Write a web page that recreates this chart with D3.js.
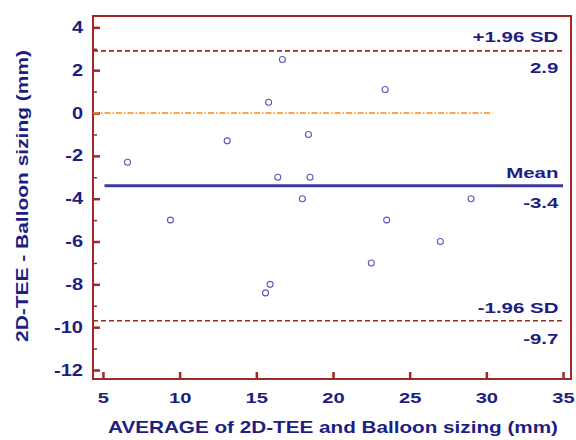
<!DOCTYPE html>
<html>
<head>
<meta charset="utf-8">
<script src="https://cdn.jsdelivr.net/npm/d3@7"></script>
<style>
  body { margin: 0; background: #fff; }
  text { font-family: "Liberation Sans", Arial, sans-serif; font-weight: bold; }
</style>
</head>
<body>
<div id="chart"></div>
<script>
// Bland-Altman points: average (mm) and difference (mm)
const averages = [6.6, 9.4, 13.1, 15.8, 16.7, 16.4, 15.9, 15.6, 18.4, 18.5, 18.0, 23.4, 29.0, 23.5, 27.0, 22.5];
const differences = [-2.3, -5.0, -1.3, 0.5, 2.5, -3.0, -8.0, -8.4, -1.0, -3.0, -4.0, 1.1, -4.0, -5.0, -6.0, -7.0];

const meanDiff = -3.4;
const upperLimit = 2.9;
const lowerLimit = -9.7;
const zeroLineEnd = 30.4;

const xTicks = [5, 10, 15, 20, 25, 30, 35];
const yTicks = [4, 2, 0, -2, -4, -6, -8, -10, -12];
const yMinorTicks = [3, 1, -1, -3, -5, -7, -9, -11];

const width = 576, height = 440;
const margin = { top: 16, right: 5, bottom: 61, left: 93 };

const frameColor = "#a02828";
const textColor = "#1e1e82";

// the text in the picture is wider than the font, stretch it sideways
function stretch(sel, sx) {
  sel.each(function () {
    const t = d3.select(this);
    const ax = +t.attr("x") || 0;
    t.attr("transform", `translate(${ax},0) scale(${sx},1) translate(${-ax},0)`);
  });
}

const svg = d3.select("#chart").append("svg")
  .attr("width", width)
  .attr("height", height);

const x = d3.scaleLinear()
  .domain([4.35, 35.52])
  .range([margin.left, width - margin.right]);

const y = d3.scaleLinear()
  .domain([-12.42, 4.53])
  .range([height - margin.bottom, margin.top]);

// minor y ticks
svg.append("g")
  .attr("transform", `translate(${margin.left},0)`)
  .call(d3.axisLeft(y).tickValues(yMinorTicks).tickSize(-4).tickFormat(""))
  .call(g => g.select(".domain").remove())
  .call(g => g.selectAll("line").attr("stroke", frameColor).attr("stroke-width", 1.5));

// major y ticks
svg.append("g")
  .attr("transform", `translate(${margin.left},0)`)
  .call(d3.axisLeft(y).tickValues(yTicks).tickSize(-7).tickPadding(10).tickFormat(d => String(d)))
  .call(g => g.select(".domain").remove())
  .call(g => g.selectAll("line").attr("stroke", frameColor).attr("stroke-width", 2.5))
  .call(g => g.selectAll("text")
    .attr("fill", textColor)
    .style("font-size", "16px")
    .style("font-family", "Liberation Sans, Arial, sans-serif")
    .style("font-weight", "bold")
    .call(stretch, 1.25));

// x ticks
svg.append("g")
  .attr("transform", `translate(0,${height - margin.bottom})`)
  .call(d3.axisBottom(x).tickValues(xTicks).tickSize(-7).tickPadding(13).tickFormat(d => String(d)))
  .call(g => g.select(".domain").remove())
  .call(g => g.selectAll("line").attr("stroke", frameColor).attr("stroke-width", 2.5))
  .call(g => g.selectAll("text")
    .attr("fill", textColor)
    .style("font-size", "15.5px")
    .style("font-family", "Liberation Sans, Arial, sans-serif")
    .style("font-weight", "bold")
    .call(stretch, 1.3));

// frame
svg.append("rect")
  .attr("x", margin.left)
  .attr("y", margin.top)
  .attr("width", width - margin.left - margin.right)
  .attr("height", height - margin.top - margin.bottom)
  .attr("fill", "none")
  .attr("stroke", frameColor)
  .attr("stroke-width", 2);

// zero line
svg.append("line")
  .attr("x1", x(4.35)).attr("x2", x(zeroLineEnd))
  .attr("y1", y(0)).attr("y2", y(0))
  .attr("stroke", "#ff8a10")
  .attr("stroke-width", 1.5)
  .attr("stroke-dasharray", "6,2,1.5,2");

// limits of agreement
[upperLimit, lowerLimit].forEach(v => {
  svg.append("line")
    .attr("x1", x(4.35)).attr("x2", x(35.1))
    .attr("y1", y(v)).attr("y2", y(v))
    .attr("stroke", frameColor)
    .attr("stroke-width", 1.6)
    .attr("stroke-dasharray", "5,3");
});

// mean line
svg.append("line")
  .attr("x1", x(5.1)).attr("x2", x(35))
  .attr("y1", y(meanDiff)).attr("y2", y(meanDiff))
  .attr("stroke", "#3a3a9e")
  .attr("stroke-width", 3);

// line labels
const labelX = x(34.7);
const lineLabels = [
  { text: "+1.96 SD", v: upperLimit, dy: -9 },
  { text: String(upperLimit), v: upperLimit, dy: 22 },
  { text: "Mean", v: meanDiff, dy: -8 },
  { text: String(meanDiff), v: meanDiff, dy: 22 },
  { text: "-1.96 SD", v: lowerLimit, dy: -8 },
  { text: String(lowerLimit), v: lowerLimit, dy: 23 }
];
svg.selectAll(".lineLabel")
  .data(lineLabels)
  .enter()
  .append("text")
  .attr("class", "lineLabel")
  .attr("x", labelX)
  .attr("y", d => y(d.v) + d.dy)
  .attr("text-anchor", "end")
  .attr("fill", textColor)
  .style("font-size", "15.5px")
  .text(d => d.text)
  .call(stretch, 1.32);

// points
svg.selectAll(".pt")
  .data(averages)
  .enter()
  .append("circle")
  .attr("class", "pt")
  .attr("cx", d => x(d))
  .attr("cy", (d, i) => y(differences[i]))
  .attr("r", 3)
  .attr("fill", "none")
  .attr("stroke", "#5a5ab8")
  .attr("stroke-width", 1.1);

// axis titles
svg.append("text")
  .attr("x", 333)
  .attr("y", 433)
  .attr("text-anchor", "middle")
  .attr("fill", textColor)
  .attr("textLength", 450)
  .attr("lengthAdjust", "spacingAndGlyphs")
  .style("font-size", "17px")
  .text("AVERAGE of 2D-TEE and Balloon sizing (mm)");

svg.append("text")
  .attr("transform", "translate(28,196) rotate(-90)")
  .attr("text-anchor", "middle")
  .attr("fill", textColor)
  .attr("textLength", 292)
  .attr("lengthAdjust", "spacingAndGlyphs")
  .style("font-size", "17px")
  .text("2D-TEE - Balloon sizing (mm)");
</script>
</body>
</html>
